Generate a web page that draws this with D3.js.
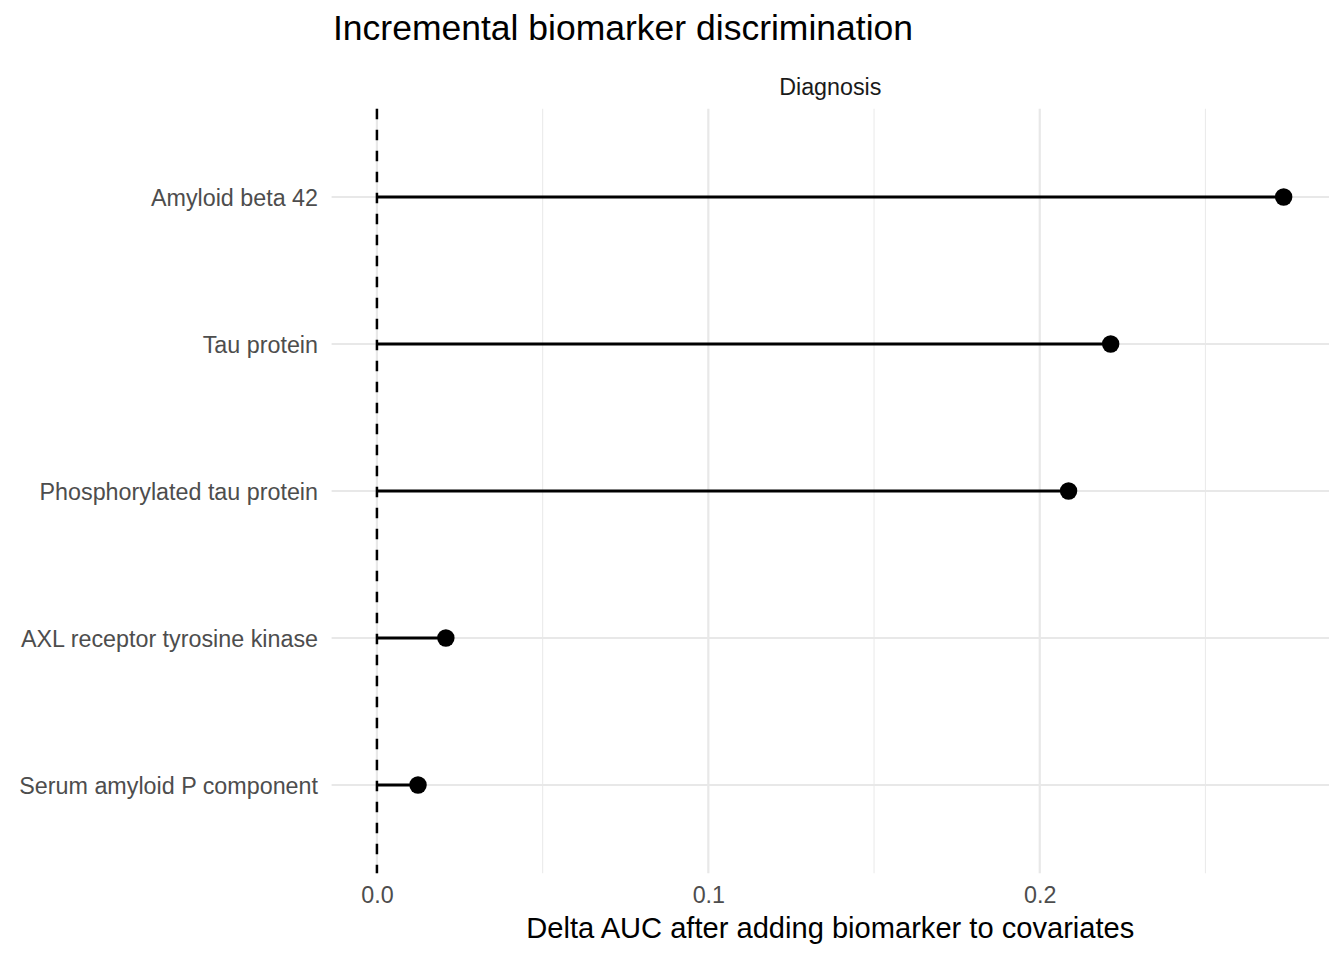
<!DOCTYPE html>
<html>
<head>
<meta charset="utf-8">
<script src="https://cdn.jsdelivr.net/npm/d3@7"></script>
<style>
  body { margin: 0; background: #fff; }
  text { font-family: "Liberation Sans", Arial, sans-serif; }
</style>
</head>
<body>
<svg width="1344" height="960"></svg>
<script>
// biomarkers, top to bottom
let markers = [
  "Amyloid beta 42",
  "Tau protein",
  "Phosphorylated tau protein",
  "AXL receptor tyrosine kinase",
  "Serum amyloid P component",
];
let deltaAuc = [0.2736, 0.2214, 0.2087, 0.0208, 0.0124];
let majorTicks = [0, 0.1, 0.2];
let minorTicks = [0.05, 0.15, 0.25];

let svg = d3.select("svg");
let panel = { left: 331.6, right: 1329, top: 108.8, bottom: 873.2 };

// x with ggplot-like 5% padding
let xMax = d3.max(deltaAuc);
let pad = xMax * 0.05;
let x = d3.scaleLinear().domain([0 - pad, xMax + pad]).range([panel.left, panel.right]);

// discrete y with 0.6 expansion
let step = (panel.bottom - panel.top) / (markers.length - 1 + 1.2);
let y = d3.scalePoint().domain(markers).range([panel.top + 0.6 * step, panel.bottom - 0.6 * step]);

// grid
let grid = svg.append("g");
grid.selectAll(".minor").data(minorTicks).enter().append("line")
  .attr("x1", d => x(d)).attr("x2", d => x(d))
  .attr("y1", panel.top).attr("y2", panel.bottom)
  .attr("stroke", "#EBEBEB").attr("stroke-width", 1.1);
grid.selectAll(".major").data(majorTicks).enter().append("line")
  .attr("x1", d => x(d)).attr("x2", d => x(d))
  .attr("y1", panel.top).attr("y2", panel.bottom)
  .attr("stroke", "#E8E8E8").attr("stroke-width", 2.2);
grid.selectAll(".ymajor").data(markers).enter().append("line")
  .attr("x1", panel.left).attr("x2", panel.right)
  .attr("y1", d => y(d)).attr("y2", d => y(d))
  .attr("stroke", "#E8E8E8").attr("stroke-width", 2.2);

// reference line at zero
svg.append("line")
  .attr("x1", x(0)).attr("x2", x(0))
  .attr("y1", panel.top).attr("y2", panel.bottom)
  .attr("stroke", "#000").attr("stroke-width", 2.5)
  .attr("stroke-dasharray", "10.5,10.5");

// lollipops
let rows = markers.map((m, i) => ({ name: m, value: deltaAuc[i] }));
svg.append("g").selectAll("line").data(rows).enter().append("line")
  .attr("x1", x(0)).attr("x2", d => x(d.value))
  .attr("y1", d => y(d.name)).attr("y2", d => y(d.name))
  .attr("stroke", "#000").attr("stroke-width", 2.8);
svg.append("g").selectAll("circle").data(rows).enter().append("circle")
  .attr("cx", d => x(d.value)).attr("cy", d => y(d.name))
  .attr("r", 8.7).attr("fill", "#000");

// axes (text only, theme_minimal)
let xAxis = d3.axisBottom(x).tickValues(majorTicks).tickFormat(d3.format(".1f")).tickSize(0).tickPadding(0);
svg.append("g").attr("transform", `translate(0,${panel.bottom})`).call(xAxis)
  .call(g => g.select(".domain").remove())
  .selectAll("text")
  .attr("dy", null).attr("y", 30)
  .attr("font-size", 23.3).attr("fill", "#4D4D4D").attr("font-family", "Liberation Sans, Arial, sans-serif");

let yAxis = d3.axisLeft(y).tickSize(0).tickPadding(0);
svg.append("g").attr("transform", `translate(318,0)`).call(yAxis)
  .call(g => g.select(".domain").remove())
  .selectAll("text")
  .attr("dy", "0.35em").attr("x", 0)
  .attr("font-size", 23.3).attr("fill", "#4D4D4D").attr("font-family", "Liberation Sans, Arial, sans-serif");

// titles
svg.append("text").attr("x", 333).attr("y", 40)
  .attr("font-size", 35.5).attr("fill", "#000")
  .text("Incremental biomarker discrimination");
svg.append("text").attr("x", (panel.left + panel.right) / 2).attr("y", 95)
  .attr("text-anchor", "middle").attr("font-size", 23.3).attr("fill", "#1A1A1A")
  .text("Diagnosis");
svg.append("text").attr("x", (panel.left + panel.right) / 2).attr("y", 938)
  .attr("text-anchor", "middle").attr("font-size", 29.1).attr("fill", "#000")
  .text("Delta AUC after adding biomarker to covariates");
</script>
</body>
</html>
